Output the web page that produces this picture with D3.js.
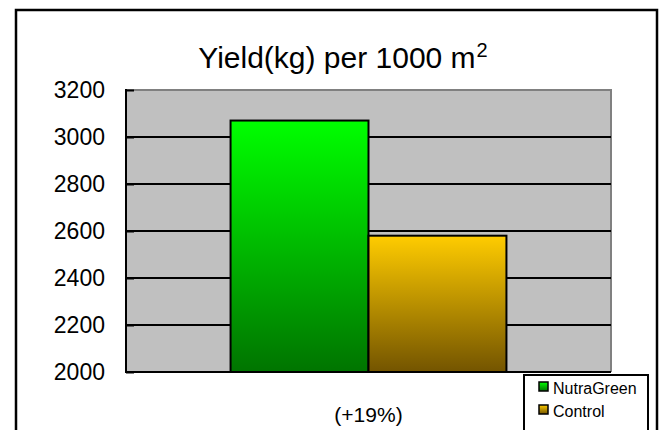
<!DOCTYPE html>
<html><head><meta charset="utf-8">
<script src="https://cdn.jsdelivr.net/npm/d3@7"></script>
<style>
html,body{margin:0;padding:0;background:#fff;}
svg{display:block;font-family:"Liberation Sans",Arial,sans-serif;}
</style></head>
<body>
<svg id="chart" width="662" height="430"></svg>
<script>
const categories = ["(+19%)"];
const seriesNames = ["NutraGreen", "Control"];
const seriesValues = [3070, 2580];
const yTicks = [2000, 2200, 2400, 2600, 2800, 3000, 3200];
const titleText = "Yield(kg) per 1000 m";
const titleSup = "2";

const svg = d3.select("#chart");
const plot = {left:126, right:611, top:90, bottom:372};

// defs: gradients
const defs = svg.append("defs");
const grads = [
  {id:"gGreen", top:"#00ff00", bottom:"#007400"},
  {id:"gYellow", top:"#ffcc00", bottom:"#735400"}
];
grads.forEach(g=>{
  const lg = defs.append("linearGradient").attr("id",g.id).attr("x1",0).attr("y1",0).attr("x2",0).attr("y2",1);
  lg.append("stop").attr("offset","0%").attr("stop-color",g.top);
  lg.append("stop").attr("offset","100%").attr("stop-color",g.bottom);
});
const fills = ["url(#gGreen)","url(#gYellow)"];

// outer border
svg.append("rect").attr("x",16).attr("y",10).attr("width",641).attr("height",440)
  .attr("fill","#fff").attr("stroke","#000").attr("stroke-width",2.5);

// scales
const y = d3.scaleLinear().domain([2000,3200]).range([plot.bottom, plot.top]);
const x0 = d3.scaleBand().domain(categories).range([plot.left, plot.right]).paddingInner(0).paddingOuter(0.379);
const x1 = d3.scaleBand().domain(seriesNames).range([0, x0.bandwidth()]).padding(0);

// plot background
svg.append("rect").attr("x",plot.left).attr("y",plot.top).attr("width",plot.right-plot.left).attr("height",plot.bottom-plot.top)
  .attr("fill","#c0c0c0");
// gray top/right border
svg.append("path").attr("d",`M${plot.left},${plot.top}H${plot.right}V${plot.bottom}`)
  .attr("fill","none").attr("stroke","#808080").attr("stroke-width",2);

// gridlines
svg.append("g").selectAll("line").data(yTicks.filter(t=>t>2000 && t<3200)).join("line")
  .attr("x1",plot.left).attr("x2",plot.right).attr("y1",d=>y(d)).attr("y2",d=>y(d))
  .attr("stroke","#000").attr("stroke-width",2);

// bars
const g = svg.append("g");
categories.forEach((c,ci)=>{
  seriesNames.forEach((s,si)=>{
    g.append("rect")
      .attr("x", x0(c)+x1(s)).attr("width", x1.bandwidth())
      .attr("y", y(seriesValues[si])).attr("height", plot.bottom - y(seriesValues[si]))
      .attr("fill", fills[si]).attr("stroke","#000").attr("stroke-width",2);
  });
});

// y axis
const yAxis = d3.axisLeft(y).tickValues(yTicks).tickSize(-8).tickPadding(21).tickFormat(d3.format("d"));
const ya = svg.append("g").attr("transform",`translate(${plot.left},0)`).call(yAxis);
ya.select(".domain").remove();
ya.selectAll(".tick line").attr("stroke","#000").attr("stroke-width",2);
ya.selectAll(".tick text").attr("font-size",23).attr("fill","#000").attr("font-family","Liberation Sans, Arial, sans-serif");
svg.append("line").attr("x1",plot.left).attr("x2",plot.left).attr("y1",plot.top-1).attr("y2",plot.bottom+1)
  .attr("stroke","#000").attr("stroke-width",2);

// x axis
const xAxis = d3.axisBottom(x0).tickSize(0).tickPadding(35);
const xa = svg.append("g").attr("transform",`translate(0,${plot.bottom})`).call(xAxis);
xa.select(".domain").remove();
xa.selectAll(".tick text").attr("font-size",21).attr("fill","#000").attr("font-family","Liberation Sans, Arial, sans-serif");
svg.append("line").attr("x1",plot.left-1).attr("x2",plot.right).attr("y1",plot.bottom).attr("y2",plot.bottom)
  .attr("stroke","#000").attr("stroke-width",2);

// title
const title = svg.append("text").attr("x",343).attr("y",68).attr("text-anchor","middle")
  .attr("font-size",30).attr("fill","#000");
title.append("tspan").text(titleText);
title.append("tspan").attr("font-size",20).attr("dx",1).attr("dy",-11).text(titleSup);

// legend
const lg = svg.append("g");
lg.append("rect").attr("x",524).attr("y",375).attr("width",124).attr("height",70)
  .attr("fill","#fff").attr("stroke","#000").attr("stroke-width",2);
seriesNames.forEach((s,i)=>{
  const yy = 382 + i*23;
  lg.append("rect").attr("x",539).attr("y",yy).attr("width",9).attr("height",9)
    .attr("fill",fills[i]).attr("stroke","#000").attr("stroke-width",1.5);
  lg.append("text").attr("x",553).attr("y",yy+11.5).attr("font-size",16).attr("fill","#000").text(s);
});
</script>
</body></html>
